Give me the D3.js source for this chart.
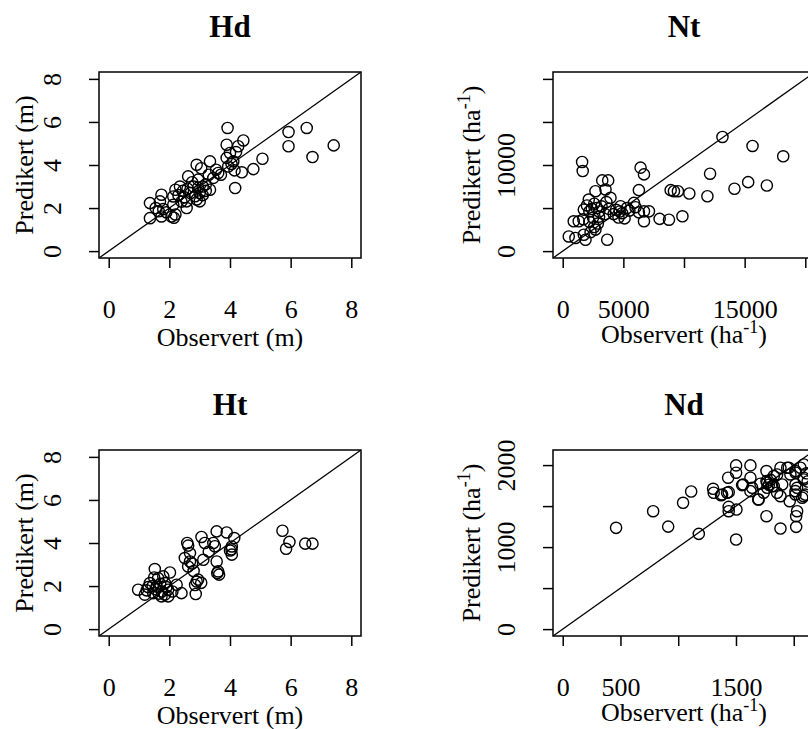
<!DOCTYPE html>
<html>
<head>
<meta charset="utf-8">
<title>observert vs predikert</title>
<style>
    body { margin: 0; background: #fff; }
    svg { display: block; background: #fff; }
    text { font-family: "Liberation Serif", "Times New Roman", serif; fill: #000; }
    .box { fill: none; stroke: #000; stroke-width: 1.5; }
    .axis path.domain { display: none; }
    .axis .tick line { stroke: #000; stroke-width: 1.5; }
    .pt { fill: none; stroke: #000; stroke-width: 1.4; }
    .diag { stroke: #000; stroke-width: 1.3; }
</style>
</head>
<body>
<svg width="808" height="729"></svg>

<script src="https://d3js.org/d3.v7.min.js"></script>
<script>

// data: [observert, predikert]
var hdPoints = [
    [3.92,5.72],[4.44,5.14],[3.89,4.94],[4.27,4.87],[4.0,4.56],[4.2,4.6],[3.89,4.33],[4.11,4.17],
    [3.94,3.93],[4.05,4.05],[4.15,3.75],[4.39,3.66],[4.77,3.81],[5.07,4.29],[4.17,2.93],[3.34,4.17],
    [2.90,4.01],[3.05,3.85],[3.54,3.78],[3.61,3.63],[3.3,3.55],[3.45,3.4],[2.62,3.47],[2.75,3.2],
    [2.95,3.32],[3.1,3.0],[3.2,2.8],[2.35,3.0],[2.45,2.8],[2.3,2.6],[2.5,2.5],[2.95,2.95],
    [3.0,2.7],[2.85,2.55],[3.34,2.85],[3.0,2.31],[2.7,2.7],[2.57,2.31],[2.57,2.0],[2.2,2.85],
    [2.13,2.54],[2.13,2.15],[2.2,1.7],[2.15,1.55],[1.74,2.62],[1.69,2.31],[1.36,2.23],[1.55,2.0],
    [1.8,1.95],[1.65,1.85],[1.36,1.53],[1.74,1.61],[2.07,1.61],[5.93,5.53],[5.93,4.87],[6.53,5.72],
    [6.72,4.37],[7.42,4.91],[3.7,3.55],[2.9,2.4],[3.1,2.6],[2.4,2.3],[1.9,1.8],[2.6,2.9],
    [3.2,3.1],[2.8,3.0]
];
var ntPoints = [
    [13170,13260],[15650,12210],[18180,11010],[12150,8990],[15290,8010],[16830,7620],[14160,7240],
    [11930,6370],[10440,6690],[8900,7080],[9170,6960],[9500,6960],[9870,4040],[8760,3650],
    [7990,3740],[6420,9690],[6700,8910],[6280,7080],[6700,4620],[7110,4620],[6700,3460],
    [6280,4500],[1600,10350],[1650,9300],[3260,8210],[3750,8210],[3530,7160],[2700,6960],
    [3940,6190],[2150,5990],[5870,5600],[4770,5210],[5300,5000],[4400,4800],[3800,4900],
    [3200,5200],[2800,5000],[2400,4900],[1740,4820],[2000,5300],[2600,5500],[3000,4600],
    [3500,4300],[4200,4300],[4900,4400],[5500,4700],[6000,5100],[3000,4000],[2500,3900],
    [2200,3400],[2900,3200],[2600,2800],[910,3460],[1320,3460],[1700,3700],[500,1700],
    [1050,1520],[1740,1900],[1880,1320],[2300,2200],[2700,2500],[3670,1320],[4600,3900],
    [5100,3800],[3600,5700],[4700,4600],[2200,4600]
];
var htPoints = [
    [5.73,4.57],[5.96,4.05],[5.85,3.73],[6.48,3.97],[6.72,3.97],[3.56,4.54],[3.89,4.49],[4.14,4.23],
    [4.06,3.84],[4.06,3.46],[4.0,3.65],[3.06,4.28],[3.17,4.0],[3.45,4.0],[2.59,4.0],[2.62,3.88],
    [2.68,3.53],[2.51,3.30],[2.68,3.14],[2.62,2.91],[2.75,3.05],[3.12,3.22],[3.56,3.14],[3.61,2.68],
    [3.64,2.53],[3.58,2.6],[2.9,2.21],[2.95,2.3],[3.05,2.15],[2.85,2.05],[2.87,1.63],[2.40,1.67],
    [2.02,2.63],[1.52,2.79],[0.97,1.83],[1.19,1.60],[1.36,2.14],[1.58,1.98],[1.85,2.14],[1.96,1.83],
    [1.74,1.52],[1.96,1.52],[2.24,2.06],[1.47,1.67],[1.63,2.37],[1.80,2.45],[1.3,1.95],[1.45,2.0],
    [1.7,2.1],[1.55,1.85],[1.75,1.75],[1.9,1.95],[1.65,1.65],[1.85,1.6],[2.1,1.75],[1.25,1.8],
    [1.5,2.4],[3.3,3.6],[3.5,3.85],[2.8,2.7],[4.05,3.7]
];
var ndPoints = [
    [462,1235],[783,1438],[913,1250],[1042,1540],[1112,1678],[1178,1161],[1302,1711],[1307,1663],
    [1371,1633],[1437,1670],[1432,1846],[1437,1491],[1437,1438],[1504,1458],[1501,1092],[1501,1996],
    [1501,1907],[1625,1996],[1625,1846],[1562,1764],[1625,1682],[1692,1581],[1764,1927],[1764,1804],
    [1764,1377],[1885,1968],[1885,1621],[1885,1226],[1957,1968],[1965,1560],[2015,1907],[2015,1682],
    [2029,1438],[2021,1377],[2021,1247],[2087,2008],[2087,1825],[2087,1621],[1827,1866],[1827,1743],
    [1553,1756],[1640,1723],[1712,1773],[1770,1785],[1813,1743],[1856,1886],[1943,1968],[1971,1886],
    [2015,1927],[2058,1968],[2087,1846],[2015,1764],[1900,1764],[1856,1663],[2015,1642],[2029,1723],
    [2073,1602],[1770,1723],[1740,1663],[1697,1581],[1380,1642],[1423,1663],[2110,1900],[2120,1800],
    [2100,1640],[1785,1760],[1800,1820]
];

// axis limits (before R's 4% padding) and ticks
var hLim  = [0, 8];
var ntLim = [0, 20000];
var ndLim = [0, 2100];
var hTicks  = [0, 2, 4, 6, 8];
var ntTicks = [0, 5000, 10000, 15000, 20000];
var ndTicks = [0, 500, 1000, 1500, 2000];
var hXLabels  = ['0', '2', '4', '6', '8'];
var hYLabels  = ['0', '2', '4', '6', '8'];
var ntXLabels = ['0', '5000', '', '15000', ''];
var ntYLabels = ['0', '', '10000', '', ''];
var ndXLabels = ['0', '500', '', '1500', ''];
var ndYLabels = ['0', '', '1000', '', '2000'];

var W = 262, H = 186;

var panels = [
    {title: 'Hd', left: 99,  top: 72,  pts: hdPoints, lim: hLim,  ticks: hTicks,  xl: hXLabels,  yl: hYLabels,  ha: false},
    {title: 'Nt', left: 553, top: 72,  pts: ntPoints, lim: ntLim, ticks: ntTicks, xl: ntXLabels, yl: ntYLabels, ha: true},
    {title: 'Ht', left: 99,  top: 450, pts: htPoints, lim: hLim,  ticks: hTicks,  xl: hXLabels,  yl: hYLabels,  ha: false},
    {title: 'Nd', left: 553, top: 450, pts: ndPoints, lim: ndLim, ticks: ndTicks, xl: ndXLabels, yl: ndYLabels, ha: true}
];

var svg = d3.select('svg');

panels.forEach(function(p, k) {
    var pad = (p.lim[1] - p.lim[0]) * 0.04;
    var dom = [p.lim[0] - pad, p.lim[1] + pad];
    var x = d3.scaleLinear().domain(dom).range([0, W]);
    var y = d3.scaleLinear().domain(dom).range([H, 0]);

    var g = svg.append('g').attr('transform', 'translate(' + p.left + ',' + p.top + ')');

    g.append('clipPath').attr('id', 'clip' + k)
        .append('rect').attr('width', W).attr('height', H);

    var plot = g.append('g').attr('clip-path', 'url(#clip' + k + ')');

    plot.append('line').attr('class', 'diag')
        .attr('x1', x(dom[0])).attr('y1', y(dom[0]))
        .attr('x2', x(dom[1])).attr('y2', y(dom[1]));

    plot.selectAll('circle').data(p.pts).enter().append('circle')
        .attr('class', 'pt')
        .attr('cx', function(d) { return x(d[0]); })
        .attr('cy', function(d) { return y(d[1]); })
        .attr('r', 5.6);

    g.append('rect').attr('class', 'box').attr('width', W).attr('height', H);

    // x axis
    var xa = g.append('g').attr('class', 'axis').attr('transform', 'translate(0,' + H + ')')
        .call(d3.axisBottom(x).tickValues(p.ticks).tickSize(10)
            .tickFormat(function(d, i) { return p.xl[i]; }));
    xa.selectAll('text').attr('y', 60).attr('dy', null)
        .style('font-size', '26px').attr('font-family', null);

    // y axis, labels parallel to axis
    var ya = g.append('g').attr('class', 'axis')
        .call(d3.axisLeft(y).tickValues(p.ticks).tickSize(10)
            .tickFormat(function(d, i) { return p.yl[i]; }));
    ya.selectAll('text')
        .attr('x', null).attr('dy', null)
        .attr('text-anchor', 'middle')
        .attr('transform', 'translate(-38,0) rotate(-90)')
        .style('font-size', '26px');

    // main title
    g.append('text')
        .attr('x', W / 2).attr('y', -35)
        .attr('text-anchor', 'middle')
        .style('font-size', '31px').style('font-weight', 'bold')
        .text(p.title);

    // axis titles
    var xt = g.append('text')
        .attr('x', W / 2).attr('y', p.ha ? H + 85 : H + 88)
        .attr('text-anchor', 'middle')
        .style('font-size', '26px');
    var yt = g.append('text')
        .attr('transform', 'translate(' + (p.ha ? -73 : -66) + ',' + (H / 2) + ') rotate(-90)')
        .attr('text-anchor', 'middle')
        .style('font-size', '26px');

    if (p.ha) {
        xt.append('tspan').text('Observert (ha');
        xt.append('tspan').attr('dy', -10).style('font-size', '18px').text('-1');
        xt.append('tspan').attr('dy', 10).text(')');
        yt.append('tspan').text('Predikert (ha');
        yt.append('tspan').attr('dy', -10).style('font-size', '18px').text('-1');
        yt.append('tspan').attr('dy', 10).text(')');
    } else {
        xt.text('Observert (m)');
        yt.text('Predikert (m)');
    }
});

</script>
</body>
</html>
